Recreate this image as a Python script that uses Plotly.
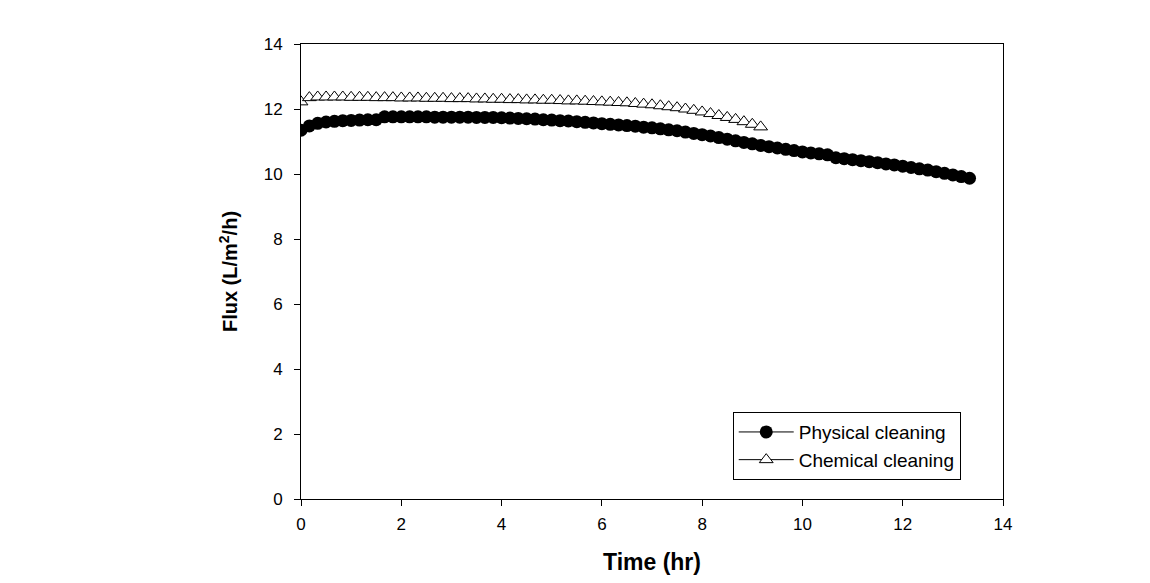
import plotly.graph_objects as go

# sampling every 10 min (hours)
t_phys = [round(i / 6, 3) for i in range(81)]
flux_phys = [
    11.35, 11.48, 11.56, 11.60, 11.62, 11.64, 11.65, 11.66, 11.67, 11.67,
    11.76, 11.76, 11.76, 11.76, 11.76, 11.76, 11.75, 11.75, 11.75, 11.75,
    11.75, 11.74, 11.74, 11.74, 11.73, 11.72, 11.71, 11.70, 11.69, 11.67,
    11.66, 11.64, 11.63, 11.61, 11.59, 11.57, 11.55, 11.53, 11.51, 11.49,
    11.47, 11.44, 11.42, 11.39, 11.36, 11.33, 11.29, 11.25, 11.21, 11.17,
    11.12, 11.07, 11.02, 10.97, 10.93, 10.88, 10.84, 10.80, 10.76, 10.72,
    10.68, 10.65, 10.62, 10.59, 10.50, 10.47, 10.44, 10.41, 10.38, 10.35,
    10.31, 10.28, 10.24, 10.20, 10.16, 10.12, 10.07, 10.02, 9.97, 9.92,
    9.87,
]

t_chem = [round(i / 6, 3) for i in range(56)]
flux_chem = [
    12.22, 12.35, 12.37, 12.37, 12.37, 12.37, 12.36, 12.36, 12.36, 12.35,
    12.35, 12.35, 12.34, 12.34, 12.34, 12.33, 12.33, 12.33, 12.32, 12.32,
    12.32, 12.31, 12.31, 12.30, 12.30, 12.29, 12.29, 12.28, 12.28, 12.27,
    12.27, 12.26, 12.25, 12.25, 12.24, 12.23, 12.22, 12.21, 12.20, 12.19,
    12.17, 12.15, 12.13, 12.10, 12.07, 12.04, 12.00, 11.96, 11.91, 11.86,
    11.80, 11.74, 11.68, 11.61, 11.53, 11.45,
]

fig = go.Figure()

fig.add_trace(go.Scatter(
    x=t_phys, y=flux_phys, mode="lines+markers", name="Physical cleaning",
    line=dict(color="black", width=1),
    marker=dict(symbol="circle", size=13, color="black"),
))
fig.add_trace(go.Scatter(
    x=t_chem, y=flux_chem, mode="lines+markers", name="Chemical cleaning",
    line=dict(color="black", width=1),
    marker=dict(symbol="triangle-up", size=12, color="white",
                line=dict(color="black", width=1)),
))

axis_common = dict(
    showline=True, linecolor="black", linewidth=1, mirror=True,
    ticks="outside", ticklen=6, tickcolor="black",
    showgrid=False, zeroline=False,
    tickfont=dict(family="Liberation Sans, Arial", size=17, color="black"),
)

fig.update_layout(
    width=1150, height=583,
    margin=dict(l=293, r=155, t=36, b=92),
    plot_bgcolor="white", paper_bgcolor="white",
    font=dict(family="Liberation Sans, Arial", color="black"),
    xaxis=dict(range=[0, 14], dtick=2, ticklabelstandoff=4,
               title=dict(text="<b>Time (hr)</b>", font=dict(size=23), standoff=20),
               **axis_common),
    yaxis=dict(range=[0, 14], dtick=2, ticklabelstandoff=8,
               title=dict(text="<b>Flux (L/m<sup>2</sup>/h)</b>", font=dict(size=20), standoff=20),
               **axis_common),
    legend=dict(x=0.615, y=0.191, xanchor="left", yanchor="top",
                bordercolor="black", borderwidth=1, bgcolor="white",
                itemwidth=55,
                font=dict(size=19, color="black"), tracegroupgap=0),
    showlegend=True,
)

fig.write_html("out.html")
